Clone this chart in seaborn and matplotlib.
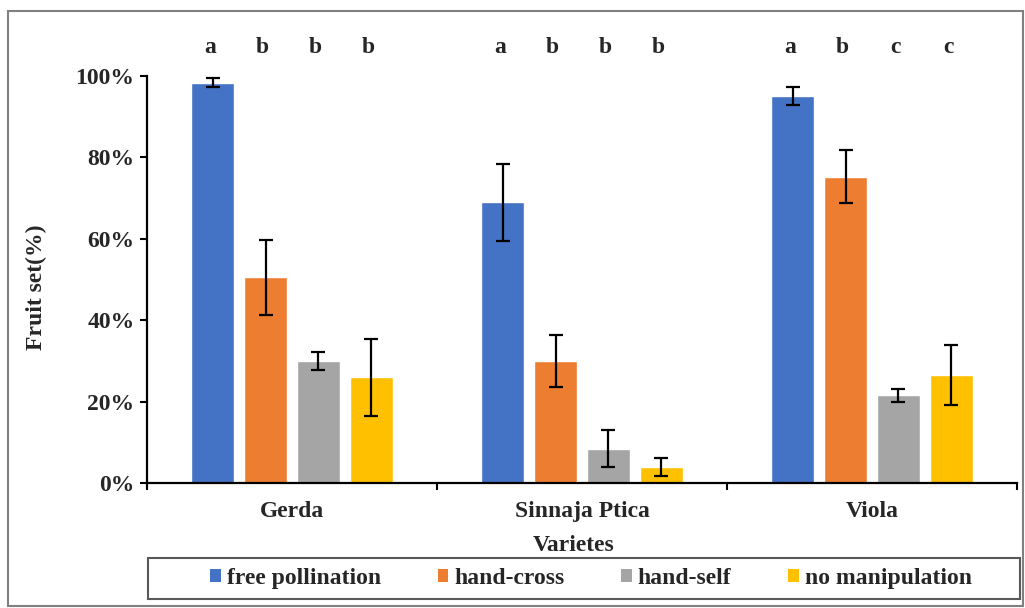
import matplotlib
matplotlib.use("Agg")
import matplotlib.pyplot as plt
import seaborn as sns
import pandas as pd
from matplotlib.patches import Rectangle, Patch
from matplotlib.ticker import PercentFormatter, FixedLocator

# ---- data ----
varieties = ["Gerda", "Sinnaja Ptica", "Viola"]
treatments = ["free pollination", "hand-cross", "hand-self", "no manipulation"]
free_pollination = [0.984, 0.690, 0.951]
hand_cross = [0.505, 0.299, 0.752]
hand_self = [0.300, 0.084, 0.215]
no_manipulation = [0.260, 0.039, 0.266]
err_free = [0.012, 0.095, 0.023]
err_cross = [0.092, 0.064, 0.065]
err_self = [0.023, 0.045, 0.015]
err_none = [0.095, 0.022, 0.074]
letters_gerda = ["a", "b", "b", "b"]
letters_sinnaja = ["a", "b", "b", "b"]
letters_viola = ["a", "b", "c", "c"]

colors = ["#4472C4", "#ED7D31", "#A5A5A5", "#FFC000"]
values = [free_pollination, hand_cross, hand_self, no_manipulation]
errors = [err_free, err_cross, err_self, err_none]
letters = [letters_gerda, letters_sinnaja, letters_viola]

rows = []
for t, vals in zip(treatments, values):
    for v, val in zip(varieties, vals):
        rows.append({"variety": v, "treatment": t, "value": val})
df = pd.DataFrame(rows)

sns.set_theme(style="white")
plt.rcParams['font.family'] = ['Liberation Serif', 'DejaVu Serif']
plt.rcParams['font.weight'] = 'bold'

FS = 17
fig = plt.figure(figsize=(10.25, 6.08), dpi=100)
ax = fig.add_axes([147/1025, 1-483/608, 870/1025, 407/608])

sns.barplot(data=df, x="variety", y="value", hue="treatment", order=varieties,
            hue_order=treatments, palette=colors, width=0.73, gap=0.2,
            saturation=1, errorbar=None, legend=False, ax=ax)

containers = list(ax.containers)
for ci, (cont, errs) in enumerate(zip(containers, errors)):
    for j, (patch, e) in enumerate(zip(cont.patches, errs)):
        x = patch.get_x() + patch.get_width() / 2
        y = patch.get_height()
        ax.errorbar(x, y, yerr=e, color="black", capsize=5, elinewidth=1.6,
                    capthick=1.6, fmt="none")
        ax.text(x - 0.01, 1.069, letters[j][ci], ha="center", va="center",
                fontsize=FS, fontweight="bold", clip_on=False)

ax.set_xlim(-0.5, 2.5)
ax.set_ylim(0, 1.0)
ax.yaxis.set_major_locator(FixedLocator([0, 0.2, 0.4, 0.6, 0.8, 1.0]))
ax.yaxis.set_major_formatter(PercentFormatter(1.0, decimals=0))
ax.xaxis.set_minor_locator(FixedLocator([-0.5, 0.5, 1.5, 2.5]))

for s in ["top", "right"]:
    ax.spines[s].set_visible(False)
for s in ["left", "bottom"]:
    ax.spines[s].set_color("black")
    ax.spines[s].set_linewidth(1.6)

ax.tick_params(axis="y", which="major", left=True, direction="out", length=5,
               width=1.5, color="black", labelsize=FS, pad=4)
ax.tick_params(axis="x", which="major", bottom=True, length=0, labelsize=FS, pad=13)
ax.tick_params(axis="x", which="minor", bottom=True, direction="out", length=5,
               width=1.5, color="black")
for lab in ax.get_xticklabels() + ax.get_yticklabels():
    lab.set_fontweight("bold")

ax.set_ylabel("Fruit set(%)", fontsize=FS, fontweight="bold")
ax.yaxis.set_label_coords(-0.115, 0.48)
ax.set_xlabel("Varietes", fontsize=FS, fontweight="bold")
ax.xaxis.set_label_coords(0.49, -0.128)

# legend
handles = [Patch(facecolor=c, edgecolor="none") for c in colors]
fig.legend(handles, treatments, loc="center", bbox_to_anchor=(591/1025, 1-578.5/608),
           ncol=4, frameon=False, handlelength=0.45, handleheight=0.45,
           handletextpad=0.25, columnspacing=2.4, prop={"size": FS, "weight": "bold"})
fig.add_artist(Rectangle((148/1025, 1-599/608), 872/1025, 41/608, transform=fig.transFigure,
                         fill=False, edgecolor="#595959", linewidth=1.5))
# outer border
fig.add_artist(Rectangle((8/1025, 1-606/608), 1015/1025, 595/608, transform=fig.transFigure,
                         fill=False, edgecolor="#808080", linewidth=1.5))

fig.savefig("out.png", dpi=100)
